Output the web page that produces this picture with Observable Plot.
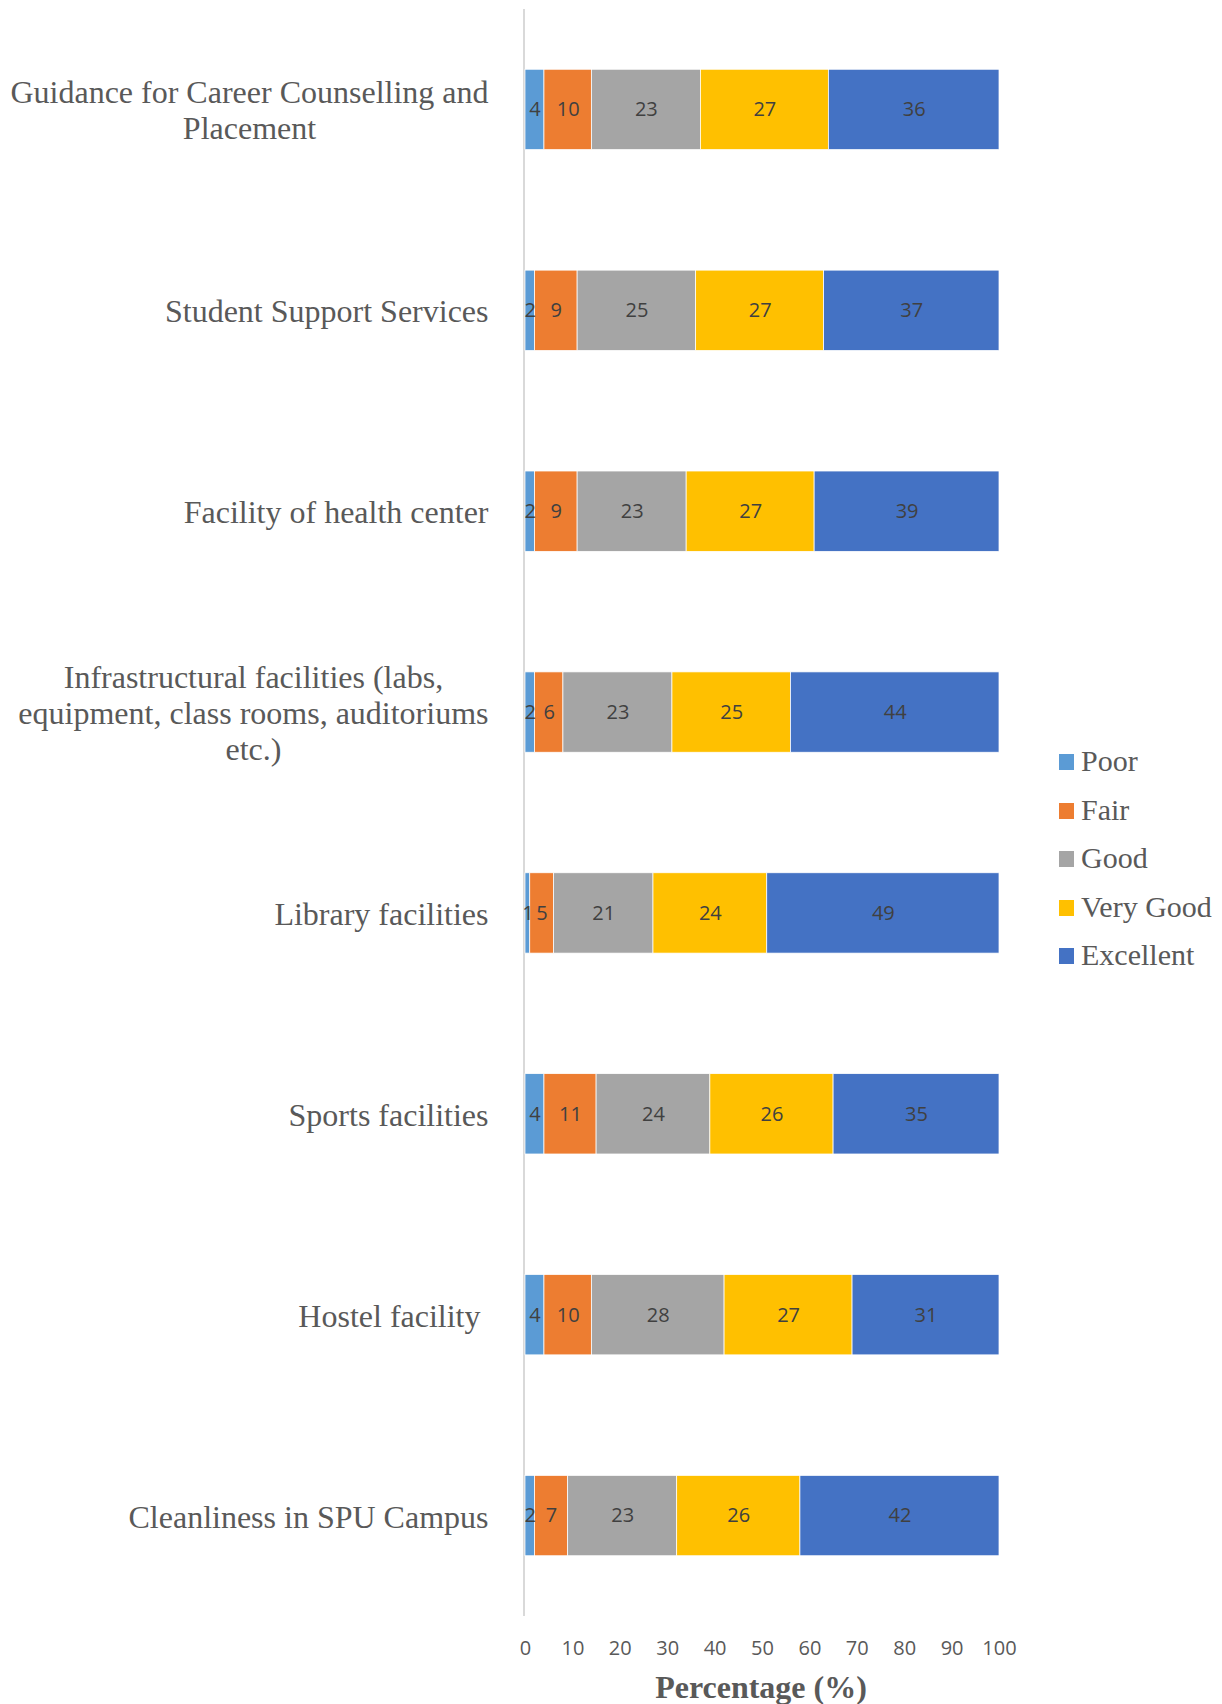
<!DOCTYPE html>
<html><head><meta charset="utf-8">
<script src="https://cdn.jsdelivr.net/npm/d3@7"></script>
<script src="https://cdn.jsdelivr.net/npm/@observablehq/plot@0.6"></script>
<style>
body{margin:0;background:#fff}
#wrap{position:relative;width:1222px;height:1704px;overflow:hidden;background:#fff}
#wrap svg{position:absolute;left:0;top:0}
.xtitle{position:absolute;top:1671px;left:524px;width:474px;text-align:center;white-space:nowrap;font:bold 32px/32px "Liberation Serif","Times New Roman",serif;color:#595959}
.legend{position:absolute;left:1059px;top:0}
.lrow{position:absolute;left:0;height:30px;white-space:nowrap;font:30px/30px "Liberation Serif","Times New Roman",serif;color:#595959}
.lsw{position:absolute;left:0;top:8px;width:15px;height:16px}
.ltx{position:absolute;left:22px;top:0}
</style></head><body><div id="wrap"></div>
<script>
const categories = [
  "Guidance for Career Counselling and\nPlacement",
  "Student Support Services",
  "Facility of health center",
  "Infrastructural facilities (labs,\nequipment, class rooms, auditoriums\netc.)",
  "Library facilities",
  "Sports facilities",
  "Hostel facility ",
  "Cleanliness in SPU Campus"
];
const ratings = ["Poor", "Fair", "Good", "Very Good", "Excellent"];
const colors = ["#5B9BD5", "#ED7D31", "#A5A5A5", "#FFC000", "#4472C4"];
const poor      = [4, 2, 2, 2, 1, 4, 4, 2];
const fair      = [10, 9, 9, 6, 5, 11, 10, 7];
const good      = [23, 25, 23, 23, 21, 24, 28, 23];
const veryGood  = [27, 27, 27, 25, 24, 26, 27, 26];
const excellent = [36, 37, 39, 44, 49, 35, 31, 42];
const xTicks = [0, 10, 20, 30, 40, 50, 60, 70, 80, 90, 100];
const xTitle = "Percentage (%)";

const series = [poor, fair, good, veryGood, excellent];
const data = [];
categories.forEach((c, i) => ratings.forEach((r, j) => data.push({category: c, rating: r, value: series[j][i]})));

const serif = "'Liberation Serif','Times New Roman',serif";
const sans = "'Open Sans',sans-serif";

const chart = Plot.plot({
  width: 1222, height: 1674,
  marginLeft: 525, marginRight: 223, marginTop: 9, marginBottom: 58,
  style: {background: "white", color: "#595959"},
  x: {domain: [0, 100], axis: null},
  y: {domain: categories, paddingInner: 0.6, paddingOuter: 0.3, round: false, axis: null},
  color: {domain: ratings, range: colors},
  marks: [
    Plot.ruleX([0], {stroke: "#d9d9d9", strokeWidth: 2, dx: -1.5}),
    Plot.barX(data, Plot.stackX({x: "value", y: "category", fill: "rating", z: "rating", order: ratings, stroke: "white", strokeWidth: 0.75})),
    Plot.textX(data, Plot.stackX({x: "value", y: "category", z: "rating", order: ratings, text: d => String(d.value), fill: "#404040", fontSize: 20, fontFamily: sans})),
    Plot.axisX({ticks: xTicks, tickSize: 0, tickPadding: 24, fontSize: 20, fontFamily: sans, label: null, tickFormat: d => String(d)}),
    Plot.text(categories, {y: d => d, text: d => d, frameAnchor: "left", dx: -37, textAnchor: "end", lineAnchor: "middle", lineHeight: 1.125, fontSize: 32, fontFamily: serif, fill: "#595959"})
  ]
});

const wrap = document.getElementById("wrap");
wrap.appendChild(chart);

// center the lines of multi-line category labels (right edge of widest line at anchor)
chart.querySelectorAll("text").forEach(t => {
  const fs = t.getAttribute("font-size") || (t.parentNode && t.parentNode.getAttribute && t.parentNode.getAttribute("font-size"));
  if (fs === "32") t.style.whiteSpace = "pre";
  const spans = t.querySelectorAll("tspan");
  if (spans.length > 1) {
    let maxW = 0;
    spans.forEach(s => { maxW = Math.max(maxW, s.getComputedTextLength()); });
    t.setAttribute("text-anchor", "middle");
    spans.forEach(s => s.setAttribute("x", -maxW / 2));
  }
});

const title = document.createElement("div");
title.className = "xtitle";
title.textContent = xTitle;
wrap.appendChild(title);

const legend = d3.select(wrap).append("div").attr("class", "legend");
ratings.forEach((r, i) => {
  const row = legend.append("div").attr("class", "lrow").style("top", (762 + i * 48.5 - 16) + "px");
  row.append("div").attr("class", "lsw").style("background", colors[i]);
  row.append("span").attr("class", "ltx").text(r);
});
</script>
</body></html>
